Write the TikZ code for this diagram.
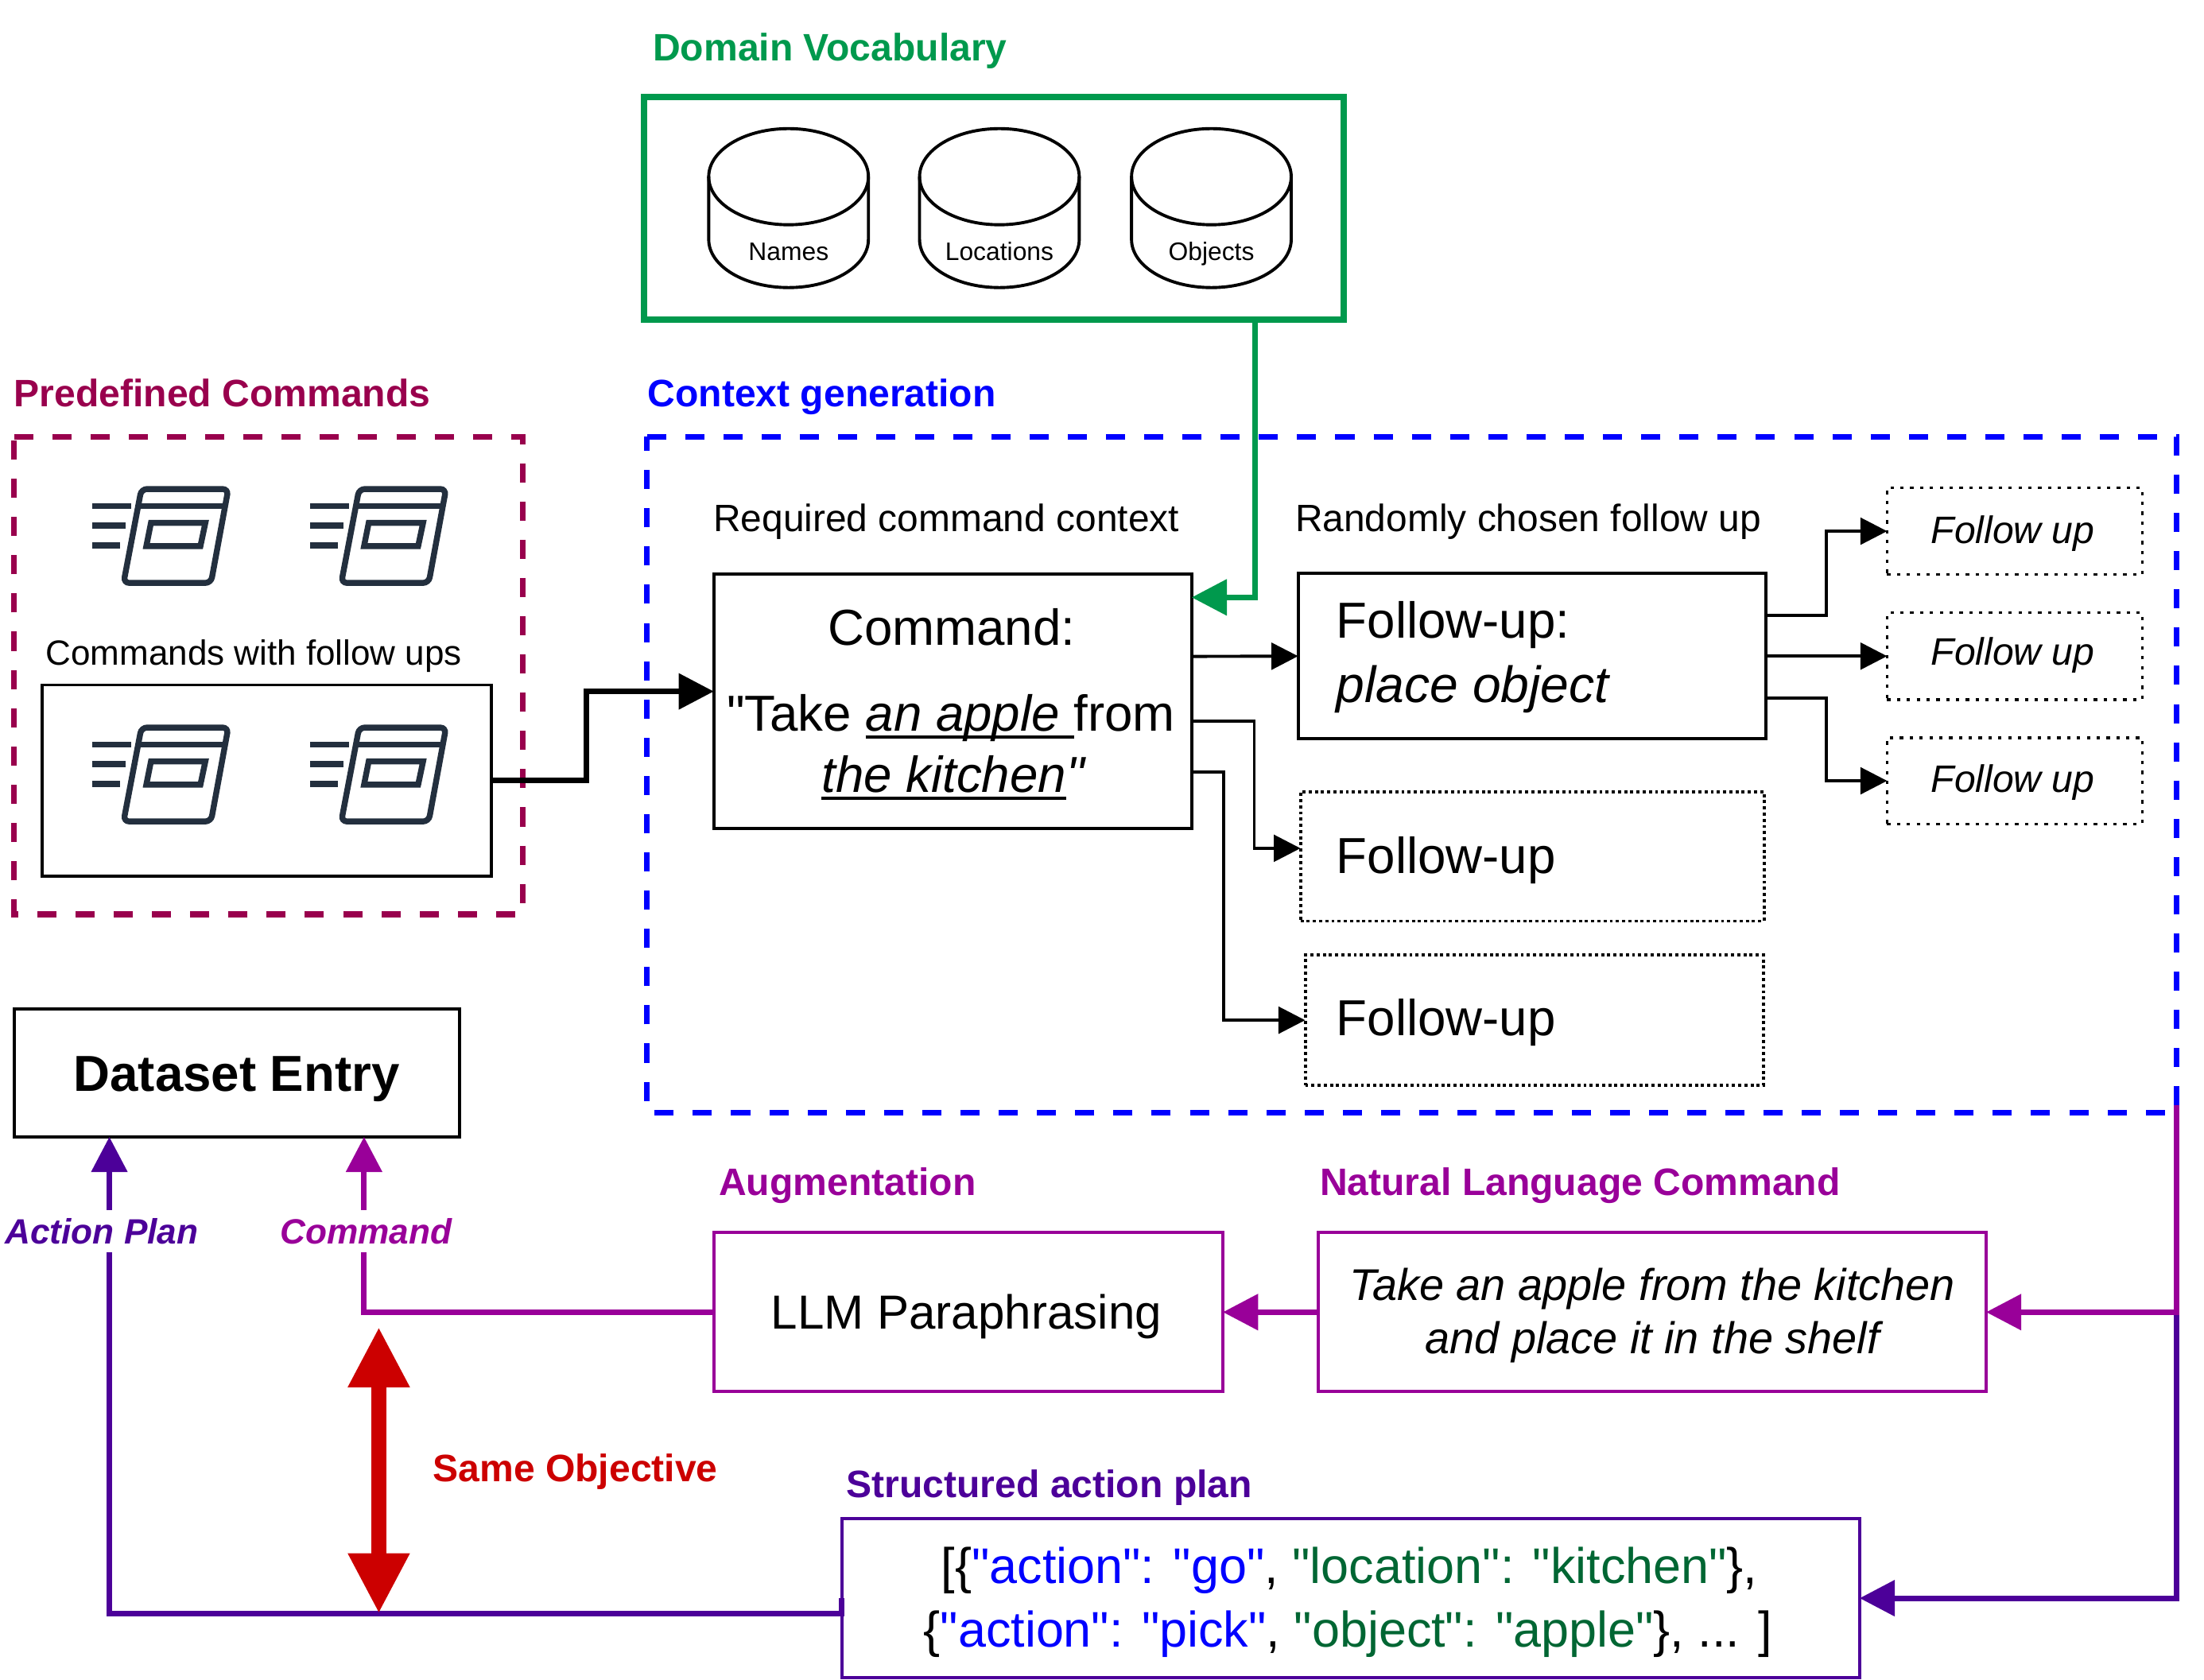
\documentclass[tikz,border=0pt]{standalone}
\usepackage{fontspec}
\setmainfont{Liberation Sans}[Ligatures=TeXOff]
\usetikzlibrary{arrows.meta}
\usetikzlibrary{calc}

\definecolor{vocabgreen}{HTML}{00994D}
\definecolor{jsongreen}{HTML}{006633}
\definecolor{predefred}{HTML}{99004D}
\definecolor{augpurple}{HTML}{990099}
\definecolor{planindigo}{HTML}{4C0099}
\definecolor{samered}{HTML}{CC0000}
\definecolor{iconslate}{HTML}{232F3E}

\newsavebox\ulbox
\newcommand{\ultext}[1]{\sbox\ulbox{#1}\rlap{\rule[-5.4pt]{\wd\ulbox}{2.2pt}}\usebox\ulbox}

\tikzset{
  txt/.style={font=\fontsize{#1}{#1}\selectfont,inner sep=0pt,outer sep=0pt},
  title/.style={font=\fontsize{27.2}{27.2}\selectfont\bfseries,inner sep=0pt,outer sep=0pt,anchor=base west},
  itxt/.style={font=\fontsize{#1}{#1}\selectfont\itshape,inner sep=0pt,outer sep=0pt},
  capped/.style={inner sep=0pt,outer sep=0pt,text height={0.716*#1pt},text depth=0pt},
  box/.style={draw,line width=2.2pt,inner sep=0pt,outer sep=0pt},
  bigdots/.style={box,dash pattern=on 2.2pt off 2.2pt},
  smalldots/.style={box,line width=2pt,dash pattern=on 2.4pt off 4.6pt},
  region/.style={line width=4pt,dash pattern=on 13.6pt off 13.6pt},
  cylline/.style={line width=2.2pt},
  thinarrow/.style={line width=2.2pt,-{Triangle[length=19pt,width=19pt]}},
  flowarrow/.style={line width=4pt,-{Triangle[length=25pt,width=25pt]}},
  cmdicon/.pic={
    \draw [iconslate,line width=4.3pt] (0,12.1) -- (28,12.1) (0,26.1) -- (24,26.1) (0,40.1) -- (20,40.1);
    \draw [iconslate,line width=4.2pt,rounded corners=4pt] (35,0) -- (96.8,0) -- (84.5,66.8) -- (22.3,66.8) -- cycle;
    \draw [iconslate,line width=4.2pt] (33,12.1) -- (94.5,12.1);
    \draw [iconslate,line width=4.2pt] (41.8,24.1) -- (80.5,24.1) -- (77,40.6) -- (38.5,40.6) -- cycle;
  }
}

\begin{document}
\begin{tikzpicture}[x=1pt,y=-1pt]

  \useasboundingbox (0,0) rectangle (1568,1194.67);

  \node [title,text=vocabgreen] (vocab_title) at (464.5,43) {Domain Vocabulary};
  \node [title,text=predefred] (predef_title) at (10,289.6) {Predefined Commands};
  \node [title,text=blue] (context_title) at (460.8,289.6) {Context generation};
  \node [title,text=augpurple] (aug_title) at (511.5,850.5) {Augmentation};
  \node [title,text=augpurple] (nl_title) at (939,850.5) {Natural Language Command};
  \node [title,text=planindigo] (plan_title) at (602.2,1065.5) {Structured action plan};

  \node [box,draw=vocabgreen,line width=4.3pt,minimum width=497.7pt,minimum height=158.3pt] (vocab) at (707.15,148.15) {};
  \foreach \cx/\cname/\ctext in {561/names/Names,711/locations/Locations,861.8/objects/Objects} {
    \draw [cylline] (\cx,125.7) ellipse [x radius=56.8pt,y radius=34.2pt];
    \draw [cylline] (\cx-56.8,125.7) -- (\cx-56.8,170.4) arc [start angle=180,end angle=360,x radius=56.8pt,y radius=34.2pt] -- (\cx+56.8,125.7);
    \node [txt=18,anchor=base] (\cname) at (\cx,185.3) {\ctext};
  }

  \node [inner sep=0pt,outer sep=0pt,minimum width=362pt,minimum height=339.7pt] (predef) at (191,480.65) {};
  \node [inner sep=0pt,outer sep=0pt,minimum width=1088.3pt,minimum height=480.7pt] (context) at (1004.55,551.15) {};
  \draw [region,predefred] (predef.north west) -- (predef.north east) -- (predef.south east) -- (predef.south west) -- cycle;
  \draw [region,blue] (context.north west) -- (context.north east) -- (context.south east) -- (context.south west) -- cycle;

  \foreach \ix in {65.6,220.5}
    \foreach \iy in {347.9,517.6}
      \pic at (\ix,\iy) {cmdicon};

  \node [txt=24.9,anchor=base west] (with_followups) at (32.5,473) {Commands with follow ups};
  \node [box,minimum width=319.5pt,minimum height=135.8pt] (withbox) at (189.95,555.2) {};

  \node [txt=27.1,anchor=base west] (required) at (507.5,378) {Required command context};
  \node [txt=27.1,anchor=base west] (randomly) at (921.5,378) {Randomly chosen follow up};

  \node [box,minimum width=340pt,minimum height=181pt] (cmd) at (677.8,498.9) {};
  \node [txt=36,anchor=base] (cmd_head) at (677,459) {Command:};
  \node [txt=36,anchor=base] (cmd_first) at (676.5,520.2) {"Take \ultext{\itshape an apple\ }from};
  \node [txt=36,anchor=base] (cmd_second) at (678,563.4) {\itshape \ultext{the kitchen}"};

  \node [box,minimum width=333pt,minimum height=117.6pt] (fu_a) at (1090,466.8) {};
  \node [txt=36,anchor=base west] (fu_a_head) at (950.8,454.2) {Follow-up:};
  \node [itxt=36.3,anchor=base west] (fu_a_kind) at (950.8,500) {place object};
  \node [bigdots,minimum width=329.8pt,minimum height=92pt] (fu_b) at (1090.1,609.3) {};
  \node [txt=36,anchor=base west] (fu_b_text) at (950.8,621.6) {Follow-up};
  \node [bigdots,minimum width=326.3pt,minimum height=92.5pt] (fu_c) at (1091.7,725.8) {};
  \node [txt=36,anchor=base west] (fu_c_text) at (950.8,737) {Follow-up};

  \node [smalldots,minimum width=181.5pt,minimum height=61.8pt] (next_a) at (1433.3,377.9) {};
  \node [itxt=27.2,anchor=base west] (next_a_text) at (1373.8,386.9) {Follow up};
  \node [smalldots,minimum width=181.5pt,minimum height=61.8pt] (next_b) at (1433.3,466.8) {};
  \node [itxt=27.2,anchor=base west] (next_b_text) at (1373.8,472.9) {Follow up};
  \node [smalldots,minimum width=181.5pt,minimum height=61.4pt] (next_c) at (1433.3,555.5) {};
  \node [itxt=27.2,anchor=base west] (next_c_text) at (1373.8,563.7) {Follow up};

  \node [box,minimum width=316.7pt,minimum height=90.8pt,capped=36,font=\fontsize{36}{36}\selectfont\bfseries] (entry) at (168.35,763.4) {Dataset Entry};

  \node [box,draw=augpurple,minimum width=362pt,minimum height=113pt,capped=34,font=\fontsize{34}{34}\selectfont] (llm) at (689,933.5) {\kern-3pt LLM Paraphrasing};
  \node [box,draw=augpurple,minimum width=475pt,minimum height=113pt] (nl) at (1175.5,933.5) {};
  \node [itxt=31.6,anchor=base] (nl_first) at (1175.5,925) {Take an apple from the kitchen};
  \node [itxt=31.6,anchor=base] (nl_second) at (1175.5,963.2) {and place it in the shelf};

  \node [box,draw=planindigo,minimum width=724pt,minimum height=113pt] (plan) at (961,1137) {};
  \node [txt=35.6,anchor=base] (plan_first) at (960,1126.5) {[\{\textcolor{blue}{"action": "go"}, \textcolor{jsongreen}{"location": "kitchen"}\},};
  \node [txt=35.6,anchor=base] (plan_second) at (959,1171.8) {\{\textcolor{blue}{"action": "pick"}, \textcolor{jsongreen}{"object": "apple"}\}, ... ]};

  \draw [flowarrow,vocabgreen] ([xshift=185.85pt]vocab.south) |- ([yshift=-16.6pt]cmd.north east);
  \draw [flowarrow] (withbox.east) -- ++(67.7,0) |- ([yshift=7pt]cmd.west);

  \draw [thinarrow] ([yshift=31.9pt]cmd.east) -- (fu_a.west);
  \draw [thinarrow] ([yshift=-14pt]cmd.east) -- ++(44.5,0) |- ([yshift=5.8pt]fu_b.west);
  \draw [thinarrow] ([yshift=-50.5pt]cmd.east) -- ++(22.5,0) |- (fu_c.west);
  \draw [thinarrow] ([yshift=29.2pt]fu_a.east) -- ++(42.7,0) |- (next_a.west);
  \draw [thinarrow] (fu_a.east) -- (next_b.west);
  \draw [thinarrow] ([yshift=-30pt]fu_a.east) -- ++(42.7,0) |- (next_c.west);

  \draw [flowarrow,planindigo] (context.south east) |- (plan.east);
  \draw [flowarrow,augpurple] ([yshift=5pt]context.south east) |- (nl.east);
  \draw [flowarrow,augpurple] (nl.west) -- (llm.east);

  \coordinate (entry_cmd) at (entry.south -| 259,0);
  \coordinate (entry_plan) at (entry.south -| 77.8,0);
  \draw [flowarrow,augpurple] (llm.west) -| (entry_cmd);
  \draw [flowarrow,planindigo] (plan.west) -- ++(0,10.9) -| (entry_plan);

  \node [capped=25,font=\fontsize{25}{25}\selectfont\bfseries\itshape,text=planindigo,fill=white,inner ysep=6pt] (plan_tag) at (72.3,876) {Action Plan};
  \node [capped=25,font=\fontsize{25}{25}\selectfont\bfseries\itshape,text=augpurple,fill=white,inner ysep=6pt] (cmd_tag) at (260.5,876) {Command};

  \coordinate (same_top) at (269.5,944);
  \coordinate (same_bottom) at (269.5,1148);
  \draw [samered,line width=11pt,{Triangle[length=43pt,width=41pt]}-{Triangle[length=43pt,width=41pt]}] (same_top) -- (same_bottom);
  \node [font=\fontsize{27.2}{27.2}\selectfont\bfseries,inner sep=0pt,outer sep=0pt,text=samered,anchor=base west] (same_label) at (308,1054.3) {Same Objective};

\end{tikzpicture}
\end{document}
